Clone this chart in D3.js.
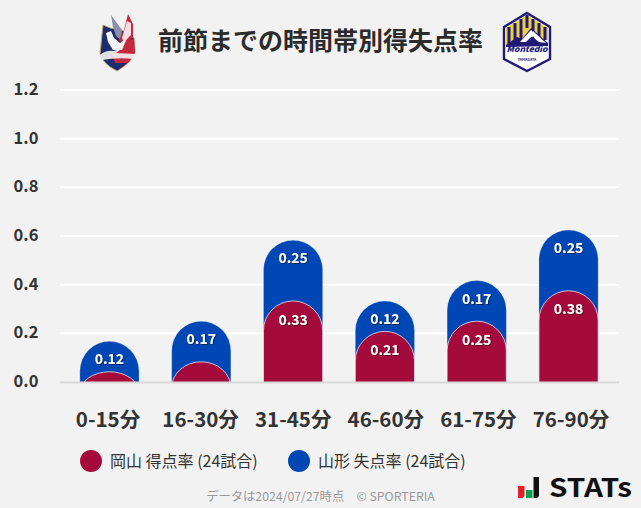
<!DOCTYPE html>
<html><head><meta charset="utf-8">
<script src="https://cdn.jsdelivr.net/npm/d3@7"></script>
<style>
html,body{margin:0;padding:0;background:#f2f2f2;}
svg{display:block;}
text{font-family:"Noto Sans CJK JP","Noto Sans",sans-serif;}
</style></head><body>
<svg id="c" width="641" height="508"></svg>
<script>
const categories=["0-15分","16-30分","31-45分","46-60分","61-75分","76-90分"];
const scored=[0.042,0.083,0.333,0.208,0.25,0.375];
const conceded=[0.125,0.167,0.25,0.125,0.167,0.25];
const scoredLabels=[null,null,"0.33","0.21","0.25","0.38"];
const concededLabels=["0.12","0.17","0.25","0.12","0.17","0.25"];
const yTicks=[0,0.2,0.4,0.6,0.8,1.0,1.2];
const titleText="前節までの時間帯別得失点率";
const legendItems=["岡山 得点率 (24試合)","山形 失点率 (24試合)"];
const footer="データは2024/07/27時点　© SPORTERIA";
const RED="#a50a3c",BLUE="#0047b6";

const svg=d3.select("#c");
const y=d3.scaleLinear().domain([0,1.2]).range([382,90]);
const x=d3.scaleBand().domain(categories).range([63.5,614.5]).paddingInner(0.355).paddingOuter(0.178);
const xLabel=d3.scalePoint().domain(categories).range([108,571]);
const bw=x.bandwidth(), r=bw/2;
const defs=svg.append("defs");
defs.append("clipPath").attr("id","base").append("rect").attr("x",0).attr("y",0).attr("width",641).attr("height",y(0));
const sh=defs.append("filter").attr("id","ts").attr("x","-20%").attr("y","-20%").attr("width","140%").attr("height","140%");
sh.append("feDropShadow").attr("dx",0.8).attr("dy",0.8).attr("stdDeviation",0.5).attr("flood-color","#000").attr("flood-opacity",0.6);

svg.append("rect").attr("width",641).attr("height",508).attr("fill","#f2f2f2");

// grid
svg.append("g").selectAll("line").data(yTicks.filter(d=>d>0)).join("line")
 .attr("x1",60).attr("x2",619).attr("y1",d=>y(d)).attr("y2",d=>y(d))
 .attr("stroke","#fff").attr("stroke-width",2);

// y labels
svg.append("g").selectAll("text").data(yTicks).join("text")
 .attr("x",26).attr("y",d=>y(d)-1).attr("dy","0.36em").attr("text-anchor","middle")
 .attr("font-size",16.5).attr("font-weight",700).attr("fill","#333").text(d=>d.toFixed(1));

// bars
const g=svg.append("g").attr("clip-path","url(#base)");
g.selectAll(".b").data(categories).join("rect").attr("class","b")
 .attr("x",d=>x(d)).attr("width",bw).attr("rx",r).attr("ry",r)
 .attr("y",(d,i)=>y(scored[i]+conceded[i]))
 .attr("height",(d,i)=>y(0)-y(scored[i]+conceded[i])+r+2)
 .attr("fill",BLUE).attr("stroke","#fff").attr("stroke-opacity",0.25).attr("stroke-width",1);
g.selectAll(".r").data(categories).join("rect").attr("class","r")
 .attr("x",d=>x(d)).attr("width",bw).attr("rx",r).attr("ry",r)
 .attr("y",(d,i)=>y(scored[i]))
 .attr("height",(d,i)=>y(0)-y(scored[i])+r+2)
 .attr("fill",RED).attr("stroke","#fff").attr("stroke-opacity",0.7).attr("stroke-width",1);

// baseline
svg.append("line").attr("x1",60).attr("x2",619).attr("y1",y(0)+0.5).attr("y2",y(0)+0.5)
 .attr("stroke","#d9d9d9").attr("stroke-width",2);

// value labels
const lab=svg.append("g").attr("text-anchor","middle").attr("font-size",14).attr("font-weight",700).attr("fill","#fff").attr("filter","url(#ts)");
lab.selectAll(".lb").data(categories).join("text").attr("class","lb")
 .attr("x",d=>x(d)+r).attr("y",(d,i)=>y(scored[i]+conceded[i])+18).attr("dy","0.36em").text((d,i)=>concededLabels[i]);
lab.selectAll(".lr").data(categories).join("text").attr("class","lr")
 .attr("x",d=>x(d)+r).attr("y",(d,i)=>y(scored[i])+18.5).attr("dy","0.36em").text((d,i)=>scoredLabels[i]);

// x labels
svg.append("g").selectAll("text").data(categories).join("text")
 .attr("x",d=>xLabel(d)).attr("y",420).attr("dy","0.36em").attr("text-anchor","middle")
 .attr("font-size",20.5).attr("font-weight",700).attr("fill","#333").text(d=>d);

// title
svg.append("text").attr("x",320.5).attr("y",41).attr("dy","0.36em").attr("text-anchor","middle")
 .attr("font-size",25).attr("font-weight",700).attr("fill","#2b2b2b").text(titleText);

// legend
const lx=[91,299],lc=[RED,BLUE],tx=[110,318];
const lg=svg.append("g").selectAll("g").data(legendItems).join("g");
lg.append("circle").attr("cx",(d,i)=>lx[i]).attr("cy",461).attr("r",11).attr("fill",(d,i)=>lc[i]);
lg.append("text").attr("x",(d,i)=>tx[i]).attr("y",461).attr("dy","0.36em").attr("font-size",16).attr("fill","#333").text(d=>d);

// footer
svg.append("text").attr("x",320.5).attr("y",497).attr("dy","0.36em").attr("text-anchor","middle")
 .attr("font-size",12.3).attr("fill","#999").text(footer);

// STATs logo
const st=svg.append("g");
st.append("path").attr("d","M518 486h6.5v10l-2 2h-4.5z").attr("fill","#e0202c");
st.append("rect").attr("x",526).attr("y",490).attr("width",6.5).attr("height",8).attr("fill","#0d9b4d");
st.append("path").attr("d","M533.5 477h5.5v19l-2 2h-3.5z").attr("fill","#111");
st.append("text").attr("x",549).attr("y",497).attr("font-size",26).attr("font-weight",700).attr("fill","#111").attr("font-family","'DejaVu Sans',sans-serif").attr("textLength",83).attr("lengthAdjust","spacingAndGlyphs").text("STATs");

// Okayama crest
const ok=svg.append("g");
ok.append("path").attr("d","M103 25 Q112 30 120 29 L134 38 L135 52 Q132 62 117 71 Q103 64 100 54 Z").attr("fill","#1d2c6b").attr("stroke","#b9a56b").attr("stroke-width",1);
ok.append("path").attr("d","M120 46 L134 38 L135 52 Q132 62 118 70 L112 55 Z").attr("fill","#c8283f");
ok.append("path").attr("d","M111 15 L122 30 L121 40 L116 36 L113 27 Z").attr("fill","#8a8fa8");
ok.append("path").attr("d","M128 14 L133 24 L133 37 L124 46 L119 40 L124 30 Z").attr("fill","#c8283f");
ok.append("path").attr("d","M127 21 L131 23 L131 35 L124 42 L122 38 Z").attr("fill","#f5dde1");
ok.append("path").attr("d","M106 33 L111 31 L114 38 L120 43 L127 38 L122 50 L113 50 L108 42 Z").attr("fill","#f6f6f6");
ok.append("path").attr("d","M100 55 Q106 50 114 51 L124 47 L116 53 L135 54 L134 59 Q118 57 102 60 Z").attr("fill","#f4f4f4").attr("opacity",0.9);
ok.append("path").attr("d","M108 63 L127 63 L118 70 Z").attr("fill","#1d2c6b");

// Yamagata crest
const ya=svg.append("g");
ya.append("path").attr("d","M527 13 L550 27 L550 59 L527 71 L504 59 L504 27 Z").attr("fill","#fff").attr("stroke","#231a78").attr("stroke-width",2.4);
ya.append("path").attr("d","M506 28 L527 15 L548 28 L548 40 L506 45 Z").attr("fill","#e9d13f");
d3.range(0,7).forEach(i=>ya.append("rect").attr("x",507.5+i*6).attr("y",[27,23,19,15,19,23,27][i]).attr("width",3).attr("height",[17,19,20,13,13,14,13][i]).attr("fill","#231a78"));
ya.append("path").attr("d","M506 45 L517 37 L522 39 L531 28 L548 43 L548 46 L506 47 Z").attr("fill","#231a78");
ya.append("path").attr("d","M520 42 L531 30 L537 36 L531 37 L526 42 Z").attr("fill","#fff");
ya.append("path").attr("d","M533 31 L546 43 L539 42 L534 38 Z").attr("fill","#fff");
ya.append("text").attr("x",527).attr("y",52).attr("text-anchor","middle").attr("font-size",8).attr("font-style","italic").attr("font-weight",900).attr("fill","#231a78").attr("textLength",41).attr("lengthAdjust","spacingAndGlyphs").text("Montedio");
ya.append("text").attr("x",527).attr("y",60.5).attr("text-anchor","middle").attr("font-size",3.6).attr("font-weight",700).attr("fill","#231a78").text("YAMAGATA");
</script>
</body></html>
